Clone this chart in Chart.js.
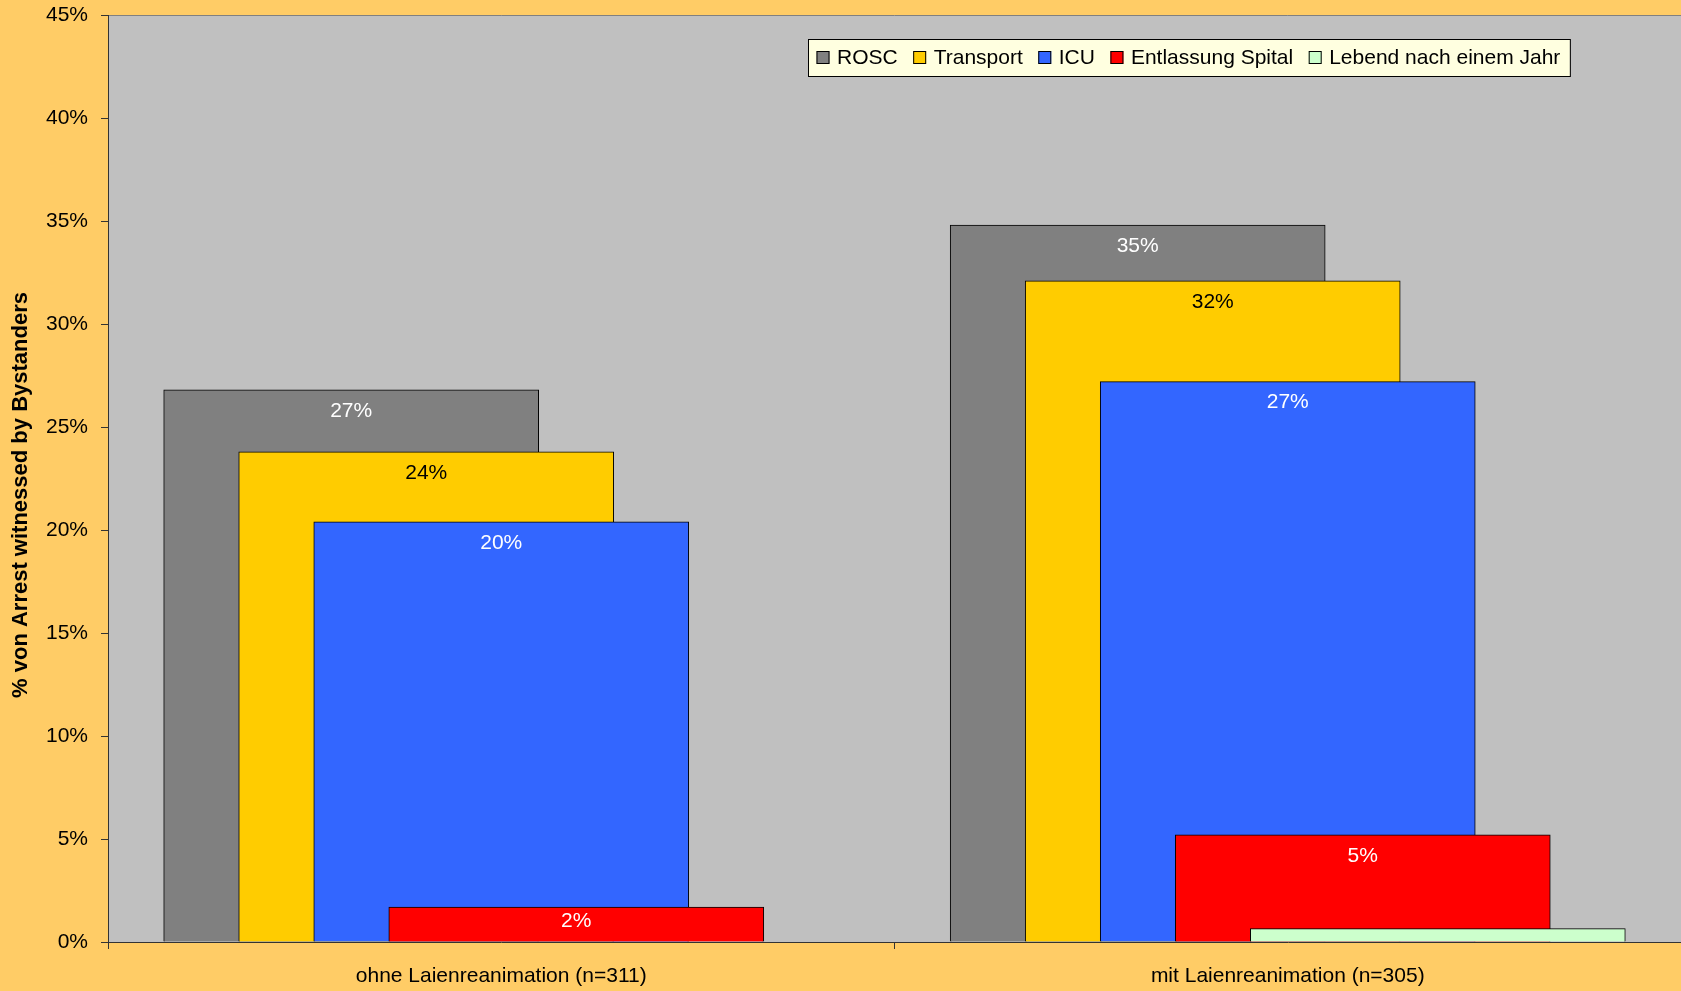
<!DOCTYPE html>
<html lang="de">
<head>
    <meta charset="UTF-8">
    <title>Laienreanimation</title>
    <style>
        body { margin: 0; background: #FFCC66; }
    </style>
</head>
<body>
    <canvas id="reaChart" width="1681" height="991"></canvas>
    <script src="https://cdn.jsdelivr.net/npm/chart.js@4.4.1/dist/chart.umd.min.js"></script>
    <script type="text/javascript">
        // data
        const categories = ['ohne Laienreanimation (n=311)', 'mit Laienreanimation (n=305)'];
        const seriesNames = ['ROSC', 'Transport', 'ICU', 'Entlassung Spital', 'Lebend nach einem Jahr'];
        const rosc = [26.8, 34.8];
        const transport = [23.8, 32.1];
        const icu = [20.4, 27.2];
        const entlassung = [1.7, 5.2];
        const lebend = [0, 0.65];
        const yMax = 45;
        const yStep = 5;
        const yTitle = '% von Arrest witnessed by Bystanders';

        const seriesValues = [rosc, transport, icu, entlassung, lebend];
        const barColors = ['#808080', '#FFCC00', '#3366FF', '#FF0000', '#CCFFCC'];
        const labelColors = ['#FFFFFF', '#000000', '#FFFFFF', '#FFFFFF', '#000000'];

        const FONT = '"Liberation Sans", Arial, sans-serif';
        const SERIES_STEP = 0.0954;   // Excel overlap: each series shifted within its category
        const BAR_WIDTH = 375;

        const datasets = seriesValues.map((vals, s) => ({
            label: seriesNames[s],
            data: vals.map((v, c) => ({ x: c + 0.5 + (s - 2) * SERIES_STEP, y: v })),
            backgroundColor: barColors[s],
            borderColor: '#000000',
            borderWidth: 1,
            barThickness: BAR_WIDTH,
            stack: 'all',
            order: seriesNames.length - s
        }));

        const background = {
            id: 'background',
            beforeDraw(chart) {
                const { ctx, chartArea: a } = chart;
                ctx.save();
                ctx.fillStyle = '#FFCC66';
                ctx.fillRect(0, 0, chart.width, chart.height);
                ctx.fillStyle = '#C0C0C0';
                ctx.fillRect(a.left, a.top, a.right - a.left, a.bottom - a.top);
                ctx.strokeStyle = '#808080';
                ctx.lineWidth = 1;
                ctx.beginPath();
                ctx.moveTo(a.left, a.top + 0.5);
                ctx.lineTo(a.right, a.top + 0.5);
                ctx.stroke();
                ctx.restore();
            }
        };

        const barLabels = {
            id: 'barLabels',
            afterDatasetDraw(chart, args) {
                const { ctx } = chart;
                const s = args.index;
                ctx.save();
                ctx.font = '21px ' + FONT;
                ctx.textAlign = 'center';
                ctx.textBaseline = 'middle';
                ctx.fillStyle = labelColors[s];
                args.meta.data.forEach((bar, c) => {
                    const v = seriesValues[s][c];
                    if (v < 1) return;
                    // inside end, pulled up a little on very short bars
                    const y = Math.min(bar.y + 21, bar.y + (bar.base - bar.y) * 0.4);
                    ctx.fillText(Math.round(v) + '%', bar.x, y);
                });
                ctx.restore();
            }
        };

        // Excel-style legend box inside the plot, plus the rotated y title
        const boxLegend = {
            id: 'boxLegend',
            afterDraw(chart) {
                const { ctx } = chart;
                const left = 808, top = 39, height = 37;
                ctx.save();
                ctx.font = '21px ' + FONT;
                let width = 8;
                seriesNames.forEach((n, i) => {
                    width += 20.5 + ctx.measureText(n).width + (i < seriesNames.length - 1 ? 15.5 : 10);
                });
                ctx.fillStyle = '#FFFFE0';
                ctx.fillRect(left, top, width, height);
                ctx.strokeStyle = '#000000';
                ctx.lineWidth = 1;
                ctx.strokeRect(left + 0.5, top + 0.5, width, height);
                let x = left + 8.5;
                const midY = top + height / 2;
                seriesNames.forEach((n, i) => {
                    ctx.fillStyle = barColors[i];
                    ctx.fillRect(x, midY - 6.5, 13, 13);
                    ctx.strokeRect(x + 0.5, midY - 6, 12, 12);
                    ctx.fillStyle = '#000000';
                    ctx.textAlign = 'left';
                    ctx.textBaseline = 'middle';
                    ctx.fillText(n, x + 20.5, midY + 1);
                    x += 20.5 + ctx.measureText(n).width + 15.5;
                });

                ctx.translate(21, 495);
                ctx.rotate(-Math.PI / 2);
                ctx.font = 'bold 22px ' + FONT;
                ctx.textAlign = 'center';
                ctx.textBaseline = 'middle';
                ctx.fillText(yTitle, 0, 0);
                ctx.restore();
            }
        };

        new Chart(document.getElementById('reaChart'), {
            type: 'bar',
            data: { datasets },
            options: {
                responsive: false,
                animation: false,
                layout: { padding: { top: 15, right: 0, bottom: 0, left: 0 } },
                plugins: {
                    legend: { display: false },
                    tooltip: { enabled: false }
                },
                scales: {
                    x: {
                        type: 'linear',
                        min: 0,
                        max: categories.length,
                        offset: false,
                        stacked: true,
                        afterBuildTicks: (scale) => {
                            scale.ticks = categories.map((c, i) => ({ value: i + 0.5 }));
                        },
                        afterFit: (scale) => { scale.height = 49; },
                        ticks: {
                            callback: (v) => categories[Math.floor(v)],
                            font: { family: FONT, size: 21 },
                            color: '#000000',
                            padding: 15,
                            maxRotation: 0
                        },
                        grid: {
                            offset: true,
                            drawOnChartArea: false,
                            tickLength: 7,
                            color: '#333333'
                        },
                        border: { color: '#333333', width: 1 }
                    },
                    y: {
                        min: 0,
                        max: yMax,
                        stacked: false,
                        afterFit: (scale) => {
                            scale.width = 108;
                            scale.paddingTop = 0;
                        },
                        ticks: {
                            stepSize: yStep,
                            callback: (v) => v + '%',
                            font: { family: FONT, size: 21 },
                            color: '#000000',
                            padding: 13
                        },
                        grid: {
                            drawOnChartArea: false,
                            tickLength: 7,
                            color: '#333333'
                        },
                        border: { color: '#333333', width: 1 }
                    }
                }
            },
            plugins: [background, barLabels, boxLegend]
        });
    </script>
</body>
</html>
